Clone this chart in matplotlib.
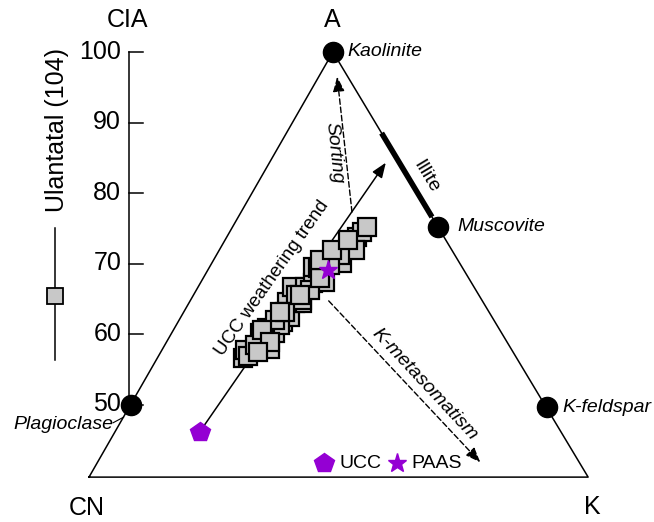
import numpy as np
import matplotlib.pyplot as plt

plt.rcParams['font.family'] = ['Liberation Sans', 'DejaVu Sans']

# Triangle corners (x, CIA) - CIA
corner_names = ["CN", "A", "K"]
corner_x = [0.0, 34.6, 70.8]
corner_cia = [39.7, 100.0, 39.7]

# End-member minerals
mineral_names = ["Kaolinite", "Muscovite", "K-feldspar", "Plagioclase"]
mineral_x = [34.6, 49.5, 64.9, 5.9]
mineral_cia = [100.0, 75.2, 49.6, 50.0]

# Illite field on the A-K join (CIA range)
illite_cia = [76.6, 88.5]

# Ulantatal samples (n = 104, many overlap)
sample_x = [21.8, 22.1, 22.6, 25.7, 24.3, 25.3, 26.4, 27.5, 28.5, 27.1,
            29.2, 30.2, 28.1, 28.8, 29.4, 30.6, 30.2, 31.8, 31.8, 32.5,
            33.1, 33.5, 34.6, 35.9, 37.3, 38.0, 38.7, 39.4, 37.7, 35.6,
            34.2, 31.4, 26.4, 25.0, 23.6, 27.8, 29.9, 32.8, 32.8, 34.5,
            36.7, 24.5, 27.1, 25.7, 24.0]
sample_cia = [56.6, 57.7, 56.9, 57.9, 60.1, 60.9, 60.1, 61.7, 62.4, 61.3,
              64.4, 64.4, 64.5, 66.7, 65.5, 66.7, 64.8, 67.2, 69.5, 69.4,
              68.4, 67.4, 70.9, 70.1, 72.9, 73.8, 74.5, 75.2, 71.9, 71.2,
              69.8, 66.2, 62.0, 59.2, 58.4, 63.1, 65.5, 67.9, 70.5, 71.9,
              73.3, 60.6, 63.1, 58.9, 57.5]

# Reference compositions
ucc = (15.7, 46.1)
paas = (33.9, 69.1)

# CIA scale
cia_ticks = [50, 60, 70, 80, 90, 100]

PX = 7.05  # pixels per unit
purple = '#9400d3'

fig = plt.figure(figsize=(6.54, 5.22), dpi=100)
ax = fig.add_axes([0, 0, 1, 1])
ax.set_xlim(-89 / PX, (654 - 89) / PX)
ax.set_ylim(100 - (522 - 52) / PX, 100 + 52 / PX)
ax.axis('off')

# triangle
ax.plot(corner_x + corner_x[:1], corner_cia + corner_cia[:1], color='black', lw=1.1, zorder=2)

# illite bar along A-K edge
illite_x = np.interp(illite_cia, [corner_cia[2], corner_cia[1]], [corner_x[2], corner_x[1]])
ax.plot(illite_x, illite_cia, color='black', lw=4, solid_capstyle='butt', zorder=3)
ax.text(47.8, 82.3, "Illite", fontsize=14, rotation=-59, ha='center', va='center')

# CIA axis
axis_x = 5.67
ax.plot([axis_x, axis_x], [cia_ticks[0], cia_ticks[-1]], color='black', lw=1.1)
for t in cia_ticks:
    ax.plot([axis_x, axis_x + 2.0], [t, t], color='black', lw=1.1)
    ax.text(axis_x - 1.1, t, str(t), fontsize=18, ha='right', va='center')
ax.text(5.5, 104.6, "CIA", fontsize=18, ha='center', va='center')

# corner labels
ax.text(34.5, 104.6, "A", fontsize=18, ha='center', va='center')
ax.text(-0.3, 35.3, "CN", fontsize=18, ha='center', va='center')
ax.text(71.4, 35.4, "K", fontsize=18, ha='center', va='center')

# arrows
arrow_solid = dict(arrowstyle='-|>,head_length=0.9,head_width=0.35', color='black', lw=1.1,
                   shrinkA=0, shrinkB=0)
arrow_dash = dict(arrowstyle='-|>,head_length=0.9,head_width=0.35', color='black', lw=1.0,
                  linestyle=(0, (4, 2)), shrinkA=0, shrinkB=0)
ax.annotate("", xy=(42.1, 84.3), xytext=ucc, arrowprops=arrow_solid, zorder=3)
ax.annotate("", xy=(35.2, 96.5), xytext=(37.3, 77.3), arrowprops=arrow_dash, zorder=3)
ax.annotate("", xy=(55.5, 41.8), xytext=(34.0, 64.7), arrowprops=arrow_dash, zorder=3)

ax.text(26.0, 67.9, "UCC weathering trend", fontsize=13.5, rotation=55,
        ha='center', va='center')
ax.text(34.8, 85.7, "Sorting", fontsize=14, style='italic', rotation=-84,
        ha='center', va='center')
ax.text(47.6, 52.8, "K-metasomatism", fontsize=14, style='italic', rotation=-47,
        ha='center', va='center')

# samples
ax.plot(sample_x, sample_cia, 's', ms=12.5, mfc='#c8c8c8', mec='black', mew=1.6,
        linestyle='none', zorder=4)
ax.plot(*ucc, 'p', ms=15, color=purple, zorder=5)
ax.plot(*paas, '*', ms=14, color=purple, zorder=5)

# mineral end-members
ax.plot(mineral_x, mineral_cia, 'o', ms=14.5, color='black', zorder=6)
ax.text(mineral_x[0] + 2.1, mineral_cia[0], mineral_names[0], fontsize=14, style='italic',
        ha='left', va='center')
ax.text(mineral_x[1] + 2.7, mineral_cia[1], mineral_names[1], fontsize=14, style='italic',
        ha='left', va='center')
ax.text(mineral_x[2] + 2.3, mineral_cia[2], mineral_names[2], fontsize=14, style='italic',
        ha='left', va='center')
ax.text(3.4, 47.2, mineral_names[3], fontsize=14, style='italic', ha='right', va='center')
ax.plot([3.4, 4.9], [47.4, 48.2], color='black', lw=0.8)

# legend inside the triangle
ax.plot(33.3, 41.7, 'p', ms=15, color=purple)
ax.text(35.5, 41.7, "UCC", fontsize=14, ha='left', va='center')
ax.plot(43.7, 41.7, '*', ms=14, color=purple)
ax.text(45.7, 41.7, "PAAS", fontsize=14, ha='left', va='center')

# sample legend on the left
ax.plot([-4.8, -4.8], [56.3, 75.0], color='black', lw=1.1)
ax.plot(-4.8, 65.4, 's', ms=12, mfc='#c8c8c8', mec='black', mew=1.3)
ax.text(-4.6, 88.9, "Ulantatal (104)", fontsize=18, rotation=90, ha='center', va='center')

fig.savefig("out.png", dpi=100)
